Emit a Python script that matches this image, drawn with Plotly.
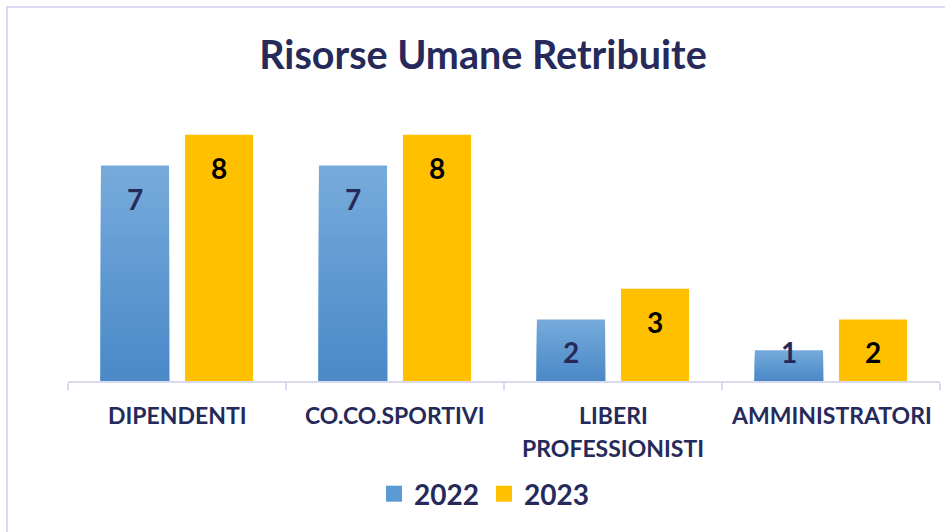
import plotly.graph_objects as go

categories = ["DIPENDENTI", "CO.CO.SPORTIVI", "LIBERI<br>PROFESSIONISTI", "AMMINISTRATORI"]
series_names = ["2022", "2023"]
values_2022 = [7, 7, 2, 1]
values_2023 = [8, 8, 3, 2]
title_text = "Risorse Umane Retribuite"

W, H = 945, 532
ML, MR, MT, MB = 68, 5, 104, 151
YMAX = 9
plot_h = H - MT - MB
plot_w = W - ML - MR
px_per_unit = plot_h / YMAX
BARGAP = 0.229
GROUPGAP = 0.19

NAVY = "#262A5A"
GOLD = "#FFC000"
BLUE_TOP = (0x77, 0xAB, 0xDB)
BLUE_BOT = (0x4A, 0x88, 0xC7)
FONT = "Lato"

def mix(f):
    c = [round(BLUE_BOT[i] + (BLUE_TOP[i] - BLUE_BOT[i]) * f) for i in range(3)]
    return "rgb(%d,%d,%d)" % tuple(c)

fig = go.Figure()

# 2022 bars with vertical gradient (overlapping bars from tallest to shortest)
N = 30
for k in range(N):
    frac = (N - k) / N
    fig.add_trace(go.Bar(
        x=categories, y=[v * frac for v in values_2022],
        offsetgroup="a", marker=dict(color=mix((N - k - 0.5) / N), line=dict(width=0)),
        showlegend=False, hoverinfo="skip",
    ))

fig.add_trace(go.Bar(
    x=categories, y=values_2023, offsetgroup="b",
    marker=dict(color=GOLD, line=dict(width=0)), showlegend=False,
))

# legend entries
fig.add_trace(go.Scatter(x=[None], y=[None], mode="markers", name=series_names[0],
                         marker=dict(symbol="square", size=17, color="#5B9BD5")))
fig.add_trace(go.Scatter(x=[None], y=[None], mode="markers", name=series_names[1],
                         marker=dict(symbol="square", size=17, color=GOLD)))

annotations = []
# value labels
off_top = 33 / px_per_unit
min_c = 29 / px_per_unit
n_groups = 2
slot = (1 - BARGAP) / n_groups
for gi, (vals, col) in enumerate([(values_2022, NAVY), (values_2023, "#000000")]):
    for i, v in enumerate(vals):
        xc = i - (1 - BARGAP) / 2 + slot * (gi + 0.5)
        yc = max(v - off_top, min_c)
        annotations.append(dict(x=xc, y=yc, xref="x", yref="y", text=str(v), showarrow=False,
                                font=dict(family=FONT, size=28, color=col, weight=700),
                                yanchor="middle"))

# category labels
for i, lab in enumerate(categories):
    for j, line in enumerate(lab.split("<br>")):
        annotations.append(dict(x=i, y=0, xref="x", yref="paper", text=line, showarrow=False,
                                yanchor="middle", yshift=-34 - 33 * j,
                                font=dict(family=FONT, size=23, color=NAVY, weight=700)))

fig.update_layout(
    width=W, height=H,
    margin=dict(l=ML, r=MR, t=MT, b=MB, autoexpand=False),
    paper_bgcolor="white", plot_bgcolor="white",
    barmode="group", bargap=BARGAP, bargroupgap=GROUPGAP,
    title=dict(text=title_text, x=483 / W, xref="container", xanchor="center",
               y=1 - 55 / H, yref="container", yanchor="middle",
               font=dict(family=FONT, size=39.5, color=NAVY, weight=700)),
    xaxis=dict(type="category", range=[-0.5, len(categories) - 0.5], showticklabels=False,
               showgrid=False, showline=True, linecolor="#D9D9F0", linewidth=2,
               tickson="boundaries", ticks="outside", ticklen=7, tickcolor="#D9D9F0",
               tickwidth=2, zeroline=False),
    yaxis=dict(range=[0, YMAX], visible=False),
    legend=dict(orientation="h", x=(484 - ML) / plot_w, xanchor="center",
                y=-(494 - (H - MB)) / plot_h, yanchor="middle",
                font=dict(family=FONT, size=28, color=NAVY, weight=700),
                itemclick=False, tracegroupgap=0),
    annotations=annotations,
    shapes=[dict(type="rect", xref="paper", yref="paper",
                 x0=(7 - ML) / plot_w, x1=(W + 20 - ML) / plot_w,
                 y0=-(H + 20 - (H - MB)) / plot_h, y1=((H - MB) - 7) / plot_h,
                 line=dict(color="#D9DAF2", width=2), layer="below")],
)

fig.write_html("out.html", config={"displayModeBar": False},
               post_script="document.body.style.margin='0';")
